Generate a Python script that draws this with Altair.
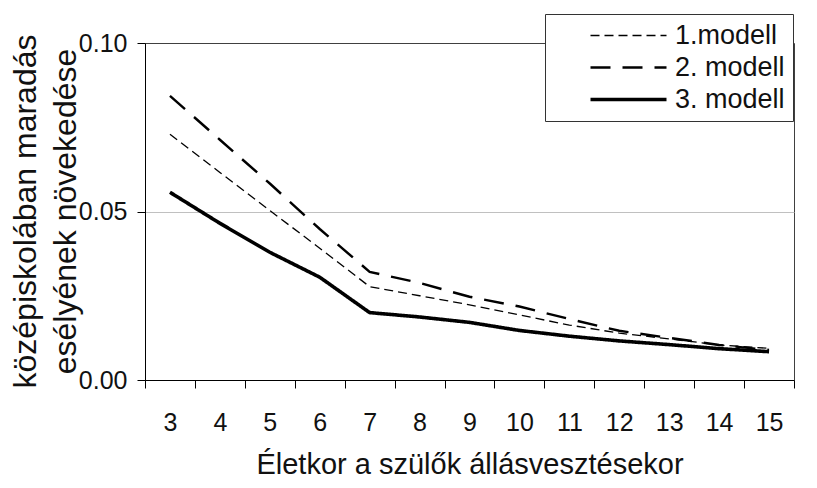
import altair as alt
import pandas as pd

ages = [3, 4, 5, 6, 7, 8, 9, 10, 11, 12, 13, 14, 15]
model_names = ["1.modell", "2. modell", "3. modell"]
m1 = [0.0729, 0.0616, 0.0503, 0.0391, 0.0277, 0.0250, 0.0223, 0.0193, 0.0163, 0.0139, 0.0122, 0.0104, 0.0094]
m2 = [0.0843, 0.0713, 0.0583, 0.0448, 0.0321, 0.0288, 0.0247, 0.0218, 0.0181, 0.0146, 0.0125, 0.0104, 0.0089]
m3 = [0.0557, 0.0465, 0.0379, 0.0305, 0.0200, 0.0187, 0.0171, 0.0147, 0.0130, 0.0116, 0.0105, 0.0093, 0.0084]

rows = []
for name, vals in zip(model_names, [m1, m2, m3]):
    for a, v in zip(ages, vals):
        rows.append({"age": a, "value": v, "model": name})
df = pd.DataFrame(rows)

FONT = "Liberation Sans"


def make_legend():
    return alt.Legend(
        title=None,
        orient="none",
        legendX=400,
        legendY=-29,
        symbolType="M-4,0H4",
        symbolSize=361,
        symbolStrokeColor="black",
        symbolOffset=62,
        strokeColor="#333",
        fillColor="white",
        padding=8,
        labelFontSize=27,
        labelOffset=33,
        labelColor="#111",
        labelExpr="datum.label + '            '",
        labelLimit=400,
        rowPadding=4,
    )


chart = alt.Chart(df).mark_line(color="black").encode(
    x=alt.X(
        "age:O",
        scale=alt.Scale(type="band", paddingInner=0, paddingOuter=0),
        axis=alt.Axis(
            title="Életkor a szülők állásvesztésekor",
            labelAngle=0,
            tickBand="extent",
            tickSize=8,
            tickColor="black",
            domainColor="black",
            labelFontSize=25,
            labelPadding=22,
            labelColor="#111",
            titleFontSize=29,
            titleFontWeight="normal",
            titleColor="#111",
            titlePadding=15,
            grid=False,
        ),
    ),
    y=alt.Y(
        "value:Q",
        scale=alt.Scale(domain=[0, 0.1], nice=False),
        axis=alt.Axis(
            title=["középiskolában maradás", "esélyének növekedése"],
            values=[0, 0.05, 0.1],
            format=".2f",
            tickSize=8,
            tickColor="black",
            domainColor="black",
            labelFontSize=25,
            labelPadding=10,
            labelColor="#111",
            titleFontSize=32,
            titleFontWeight="normal",
            titleColor="#111",
            titleLineHeight=40,
            titleBaseline="middle",
            titleAngle=270,
            titleX=-120,
            titleY=168,
            grid=True,
            gridColor="#c0c0c0",
            gridOpacity={"condition": {"test": "datum.value === 0.05", "value": 1}, "value": 0},
        ),
    ),
    strokeDash=alt.StrokeDash(
        "model:O",
        scale=alt.Scale(domain=model_names, range=[[9, 5], [20, 12], [1, 0]]),
        legend=make_legend(),
    ),
    strokeWidth=alt.StrokeWidth(
        "model:O",
        scale=alt.Scale(domain=model_names, range=[1.3, 3.6, 3.0]),
        legend=make_legend(),
    ),
).properties(
    width=649,
    height=337,
    padding={"left": 137, "top": 35, "right": 15, "bottom": 100},
    autosize=alt.AutoSizeParams(type="none"),
).configure(
    font=FONT,
).configure_view(
    stroke="#404040",
    strokeWidth=1,
)

chart.save("out.html", embed_options={"renderer": "svg", "actions": False})
